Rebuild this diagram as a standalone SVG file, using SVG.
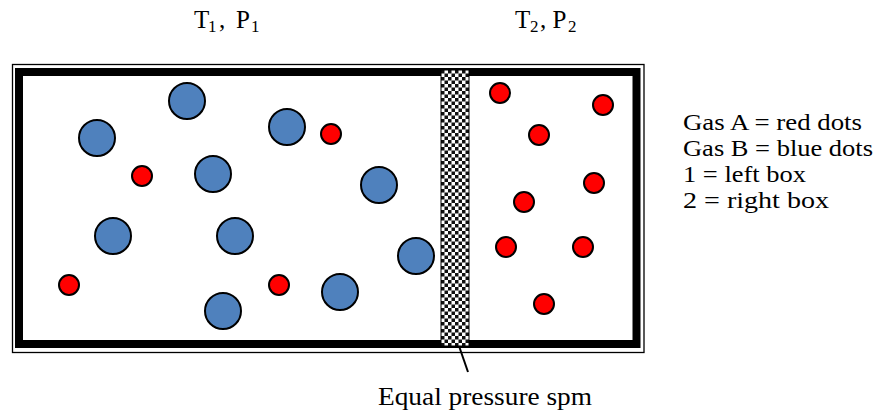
<svg xmlns="http://www.w3.org/2000/svg" width="880" height="412" viewBox="0 0 880 412">
  <style>
    text { font-family: "Liberation Serif", "Times New Roman", serif; font-size: 26px; fill: #000; }
    .tp { font-size: 25px; }
    .sub { font-size: 17px; }
    .leg { font-size: 23.5px; }
    .blue { fill: #4F81BD; stroke: #000; stroke-width: 2; }
    .red { fill: #FF0000; stroke: #000; stroke-width: 2; }
    .lead { stroke: #000; stroke-width: 2; fill: none; }
  </style>
  <defs>
    <pattern id="checker" x="441" y="70" width="7" height="7" patternUnits="userSpaceOnUse">
      <rect x="0" y="0" width="7" height="7" fill="#fff"/>
      <rect x="0" y="0" width="3.5" height="3.5" fill="#111"/>
      <rect x="3.5" y="3.5" width="3.5" height="3.5" fill="#111"/>
    </pattern>
  </defs>
  <rect width="880" height="412" fill="#fff"/>

  <g id="container">
    <rect x="12.5" y="64.5" width="631.5" height="288" fill="none" stroke="#000" stroke-width="1.3"/>
    <rect x="19" y="72" width="617.5" height="272" fill="#fff" stroke="#000" stroke-width="8"/>
  </g>

  <g id="membrane">
    <rect x="441" y="70" width="28" height="276" fill="url(#checker)" stroke="#000" stroke-width="1"/>
  </g>

  <g id="gas-b-blue">
    <circle class="blue" cx="187" cy="101" r="18"/>
    <circle class="blue" cx="97" cy="138" r="18"/>
    <circle class="blue" cx="287" cy="127" r="18"/>
    <circle class="blue" cx="213" cy="174" r="18"/>
    <circle class="blue" cx="379" cy="185" r="18"/>
    <circle class="blue" cx="113" cy="236" r="18"/>
    <circle class="blue" cx="235" cy="236" r="18"/>
    <circle class="blue" cx="416" cy="256" r="18"/>
    <circle class="blue" cx="340" cy="292" r="18"/>
    <circle class="blue" cx="223" cy="311" r="18"/>
  </g>

  <g id="gas-a-red">
    <circle class="red" cx="331" cy="134" r="10"/>
    <circle class="red" cx="142" cy="176" r="10"/>
    <circle class="red" cx="69" cy="285" r="10"/>
    <circle class="red" cx="279" cy="285" r="10"/>
    <circle class="red" cx="500" cy="93" r="10"/>
    <circle class="red" cx="603" cy="105" r="10"/>
    <circle class="red" cx="539" cy="135" r="10"/>
    <circle class="red" cx="594" cy="183" r="10"/>
    <circle class="red" cx="524" cy="202" r="10"/>
    <circle class="red" cx="506" cy="247" r="10"/>
    <circle class="red" cx="583" cy="247" r="10"/>
    <circle class="red" cx="544" cy="304" r="10"/>
  </g>

  <g id="connectors">
    <line class="lead" x1="459" y1="346" x2="468" y2="372"/>
  </g>

  <g id="label-left">
    <text class="tp" x="194" y="28">T<tspan class="sub" x="208" y="32">1</tspan><tspan x="219" y="28">,</tspan><tspan x="236" y="28">P</tspan><tspan class="sub" x="251" y="32">1</tspan></text>
  </g>
  <g id="label-right">
    <text class="tp" x="515" y="28">T<tspan class="sub" x="530" y="32">2</tspan><tspan x="540" y="28">, P</tspan><tspan class="sub" x="568" y="32">2</tspan></text>
  </g>
  <g id="label-membrane">
    <text x="378" y="405" textLength="214" lengthAdjust="spacingAndGlyphs">Equal pressure spm</text>
  </g>
  <g id="legend">
    <text class="leg" x="683" y="130" textLength="179" lengthAdjust="spacingAndGlyphs">Gas A = red dots</text>
    <text class="leg" x="683" y="156" textLength="190" lengthAdjust="spacingAndGlyphs">Gas B = blue dots</text>
    <text class="leg" x="683" y="182" textLength="123" lengthAdjust="spacingAndGlyphs">1 = left box</text>
    <text class="leg" x="683" y="208" textLength="146" lengthAdjust="spacingAndGlyphs">2 = right box</text>
  </g>
</svg>
